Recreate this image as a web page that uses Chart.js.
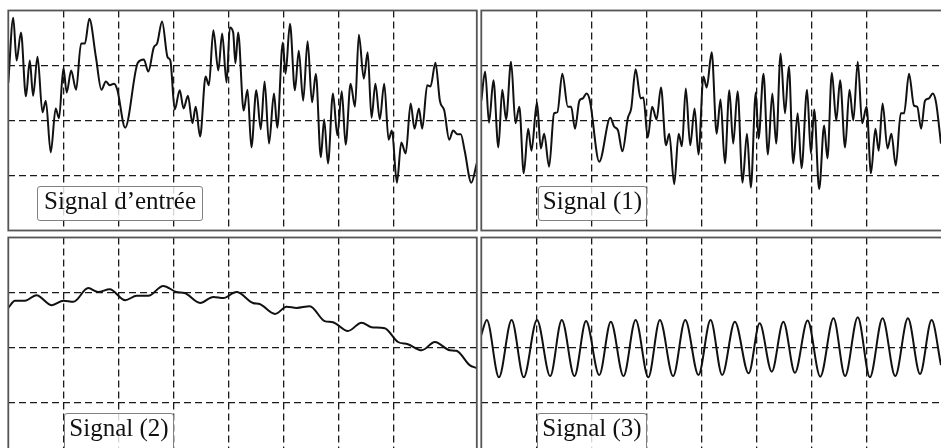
<!DOCTYPE html>
<html>
<head>
<meta charset="utf-8">
<script src="https://cdn.jsdelivr.net/npm/chart.js@4"></script>
<style>
  body { margin: 0; width: 941px; height: 448px; overflow: hidden; background: #fff; position: relative; }
  .panel { position: absolute; width: 473px; height: 225px; }
  .tag {
    position: absolute; box-sizing: border-box; height: 35px;
    border: 1.3px solid #808080; border-radius: 3px; background: rgba(255,255,255,0.82);
    font: 25px "Liberation Serif", serif; color: #111; text-align: center; line-height: 27px;
  }
</style>
</head>
<body>
<div class="panel" style="left:6px;top:8px"><canvas id="pIn"></canvas></div>
<div class="panel" style="left:479px;top:8px"><canvas id="p1"></canvas></div>
<div class="panel" style="left:6px;top:235px"><canvas id="p2"></canvas></div>
<div class="panel" style="left:479px;top:235px"><canvas id="p3"></canvas></div>

<div class="tag" id="t0" style="left:37px;top:186px;width:166px"></div>
<div class="tag" id="t1" style="left:538px;top:186px;width:109px"></div>
<div class="tag" id="t2" style="left:64px;top:413px;width:110px;height:40px"></div>
<div class="tag" id="t3" style="left:537px;top:413px;width:110px;height:40px"></div>

<script>
// x in grid divisions (0 .. 8.5), y in grid divisions (-2 .. 2)
const labels = ['Signal d\u2019entrée', 'Signal (1)', 'Signal (2)', 'Signal (3)'];

const inX = [0.00,0.09,0.15,0.23,0.32,0.39,0.45,0.53,0.62,0.68,0.77,0.86,0.92,1.00,1.06,1.14,1.23,1.32,1.39,1.47,
  1.59,1.69,1.77,1.84,1.92,1.98,2.12,2.35,2.46,2.54,2.64,2.70,2.79,2.89,2.94,3.02,3.11,3.18,3.26,3.34,
  3.40,3.48,3.58,3.64,3.72,3.81,3.88,3.96,4.02,4.08,4.12,4.17,4.27,4.34,4.41,4.50,4.58,4.65,4.73,4.82,
  4.88,4.98,5.03,5.11,5.20,5.27,5.35,5.43,5.51,5.58,5.67,5.73,5.80,5.89,5.97,6.05,6.12,6.21,6.29,6.36,
  6.45,6.52,6.59,6.66,6.74,6.82,6.90,6.96,7.05,7.13,7.21,7.30,7.37,7.45,7.51,7.60,7.66,7.75,7.83,7.91,
  8.00,8.07,8.15,8.21,8.28,8.40,8.50];
const inY = [0.69,1.87,1.09,1.60,0.44,1.09,0.45,1.16,0.15,0.36,-0.58,0.22,0.04,0.95,0.51,0.91,0.56,1.40,1.40,1.85,
  1.15,0.56,0.71,0.64,0.67,0.55,-0.13,1.05,1.11,0.89,1.33,1.40,1.80,1.15,1.09,0.20,0.55,0.22,0.45,-0.05,
  0.25,-0.29,0.80,0.64,1.64,0.91,1.58,0.69,1.69,1.60,1.04,1.60,0.18,0.56,-0.49,0.55,-0.16,0.71,-0.42,0.49,
  -0.13,1.42,0.85,1.76,0.55,1.27,0.36,1.44,0.33,0.85,-0.67,0.02,-0.78,0.49,-0.27,0.53,-0.44,0.67,0.25,1.56,
  0.76,1.24,0.05,0.67,0.02,0.67,-0.35,-0.18,-1.13,-0.40,-0.60,0.31,-0.15,0.22,-0.15,0.64,0.62,1.05,0.36,0.18,
  -0.35,-0.18,-0.25,-0.25,-0.55,-1.13,-0.78];

const s1X = [0.00,0.07,0.14,0.22,0.31,0.38,0.45,0.54,0.62,0.69,0.77,0.85,0.91,1.01,1.08,1.14,1.23,1.32,1.38,1.47,
  1.57,1.63,1.70,1.78,1.84,1.91,1.97,2.14,2.34,2.41,2.48,2.56,2.66,2.72,2.80,2.89,2.94,3.02,3.10,3.18,
  3.26,3.35,3.41,3.50,3.58,3.64,3.71,3.79,3.87,3.94,4.03,4.09,4.18,4.27,4.34,4.42,4.50,4.57,4.65,4.74,
  4.82,4.89,4.98,5.03,5.12,5.20,5.28,5.35,5.43,5.51,5.58,5.66,5.74,5.81,5.91,5.98,6.04,6.13,6.22,6.28,
  6.36,6.44,6.51,6.60,6.68,6.75,6.83,6.91,6.99,7.07,7.15,7.21,7.28,7.37,7.44,7.52,7.61,7.67,7.76,7.85,
  7.91,7.98,8.05,8.12,8.19,8.25,8.34];
const s1Y = [0.36,0.89,-0.04,0.73,-0.49,0.56,0.02,1.07,-0.05,0.25,-0.96,-0.15,-0.55,0.33,-0.51,-0.24,-0.84,0.13,0.15,0.85,
  0.25,0.25,-0.15,0.36,0.40,0.49,0.36,-0.75,0.05,-0.11,-0.18,-0.56,0.05,0.22,0.93,0.40,0.42,-0.31,0.25,0.02,
  0.60,-0.45,-0.24,-1.16,-0.24,-0.47,0.58,-0.45,0.22,-0.62,0.80,0.60,1.24,-0.24,0.38,-0.78,0.55,-0.42,0.53,-1.13,
  -0.24,-1.22,0.51,-0.33,0.85,-0.62,0.49,-0.42,1.22,0.13,0.98,-0.78,0.13,-0.87,0.56,-0.60,0.20,-1.25,-0.09,-0.69,
  0.87,0.00,0.73,-0.49,0.56,0.00,1.07,-0.05,0.25,-0.96,-0.15,-0.55,0.31,-0.51,-0.24,-0.82,0.13,0.13,0.85,0.27,
  0.25,-0.15,0.36,0.40,0.49,0.33,-0.42];

const s2X = [0.00,0.12,0.30,0.51,0.79,1.00,1.18,1.45,1.63,1.84,2.12,2.33,2.54,2.81,3.05,3.20,3.48,3.72,3.90,4.14,
  4.44,4.56,4.84,5.05,5.23,5.47,5.74,5.89,6.16,6.41,6.59,6.83,7.07,7.25,7.50,7.74,8.01,8.13,8.37,8.49];
const s2Y = [0.72,0.85,0.85,0.95,0.77,0.85,0.83,1.08,1.01,1.06,0.86,0.94,0.94,1.12,1.01,0.99,0.81,0.92,0.90,1.01,
  0.81,0.79,0.61,0.74,0.72,0.75,0.48,0.46,0.30,0.45,0.37,0.35,0.10,0.06,-0.05,0.10,-0.05,-0.06,-0.32,-0.37];

const s3X = [0.00,0.10,0.32,0.55,0.77,1.01,1.25,1.46,1.69,1.90,2.14,2.35,2.58,2.80,3.03,3.24,3.48,3.70,3.94,4.16,
  4.37,4.60,4.85,5.05,5.27,5.48,5.69,5.92,6.15,6.39,6.60,6.83,7.05,7.28,7.51,7.74,7.96,8.17,8.34];
const s3Y = [0.23,0.50,-0.54,0.50,-0.54,0.50,-0.52,0.50,-0.52,0.48,-0.50,0.47,-0.52,0.50,-0.54,0.50,-0.52,0.50,-0.50,0.50,
  -0.50,0.47,-0.47,0.44,-0.44,0.47,-0.46,0.49,-0.53,0.53,-0.52,0.55,-0.54,0.53,-0.52,0.53,-0.48,0.50,-0.32];

const frame = {
  id: 'frame',
  afterDraw(chart) {
    const {ctx, chartArea: a} = chart;
    ctx.save();
    ctx.strokeStyle = '#555';
    ctx.lineWidth = 1.8;
    ctx.strokeRect(a.left, a.top, a.right - a.left, a.bottom - a.top);
    ctx.restore();
  }
};

const edgeless = (lo, hi) => c => (c.tick && (c.tick.value <= lo || c.tick.value >= hi)) ? 'rgba(0,0,0,0)' : '#1a1a1a';

function panel(id, xs, ys) {
  const pts = xs.map((x, i) => ({x: x, y: ys[i]}));
  new Chart(document.getElementById(id), {
    type: 'line',
    data: {datasets: [{
      data: pts, borderColor: '#111', borderWidth: 2, pointRadius: 0,
      cubicInterpolationMode: 'monotone', fill: false
    }]},
    options: {
      responsive: true, maintainAspectRatio: false, animation: false, events: [],
      layout: {padding: {left: 2.3, right: 2.2, top: 2.5, bottom: 2.5}},
      plugins: {legend: {display: false}, tooltip: {enabled: false}},
      scales: {
        x: {
          type: 'linear', min: 0, max: 8.5,
          ticks: {display: false, stepSize: 1},
          grid: {color: edgeless(0, 8.5), lineWidth: 1.3, drawTicks: false},
          border: {display: false, dash: [7, 4]},
          afterFit: s => { s.height = 0; }
        },
        y: {
          type: 'linear', min: -2, max: 2,
          ticks: {display: false, stepSize: 1},
          grid: {color: edgeless(-2, 2), lineWidth: 1.3, drawTicks: false},
          border: {display: false, dash: [7, 4]},
          afterFit: s => { s.width = 0; }
        }
      }
    },
    plugins: [frame]
  });
}

panel('pIn', inX, inY);
panel('p1', s1X, s1Y);
panel('p2', s2X, s2Y);
panel('p3', s3X, s3Y);

labels.forEach((t, i) => { document.getElementById('t' + i).textContent = t; });
</script>
</body>
</html>
